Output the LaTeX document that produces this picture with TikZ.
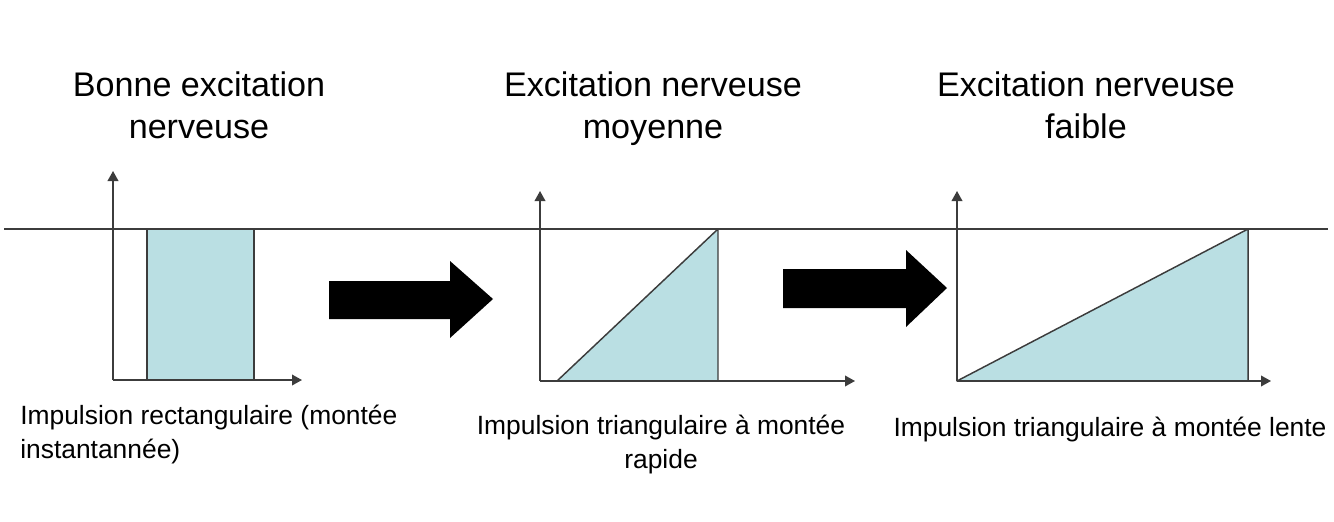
\documentclass[tikz,border=0pt]{standalone}
\usepackage{fontspec}
\setmainfont{Liberation Sans}
\usetikzlibrary{arrows.meta}
\definecolor{pulse}{RGB}{186,223,227}
\definecolor{axisgray}{RGB}{60,60,60}
\tikzset{
  axis/.style={draw=axisgray, line width=1.1pt, -{Triangle[length=7.5pt,width=8pt]}},
  level/.style={draw=axisgray, line width=1.1pt},
  pulsefill/.style={fill=pulse, draw=axisgray, line width=1.1pt, line join=round},
  blockarrow/.style={fill=black, draw=none},
  title/.style={font=\fontsize{25.6pt}{31.5pt}\selectfont, align=center, inner sep=0pt, text depth=0pt},
  caption/.style={font=\fontsize{19.8pt}{25.5pt}\selectfont, inner sep=0pt}
}
\begin{document}
\begin{tikzpicture}[x=0.75pt, y=-0.75pt]
\useasboundingbox (0,0) rectangle (1334,521);
% level line
\coordinate (L0) at (4,229);
\coordinate (L1) at (1328,229);
% panel 1
\coordinate (o1) at (113,380);
\coordinate (y1) at (113,171);
\coordinate (x1) at (302,380);
\fill[pulse] (147,229) rectangle (254,380);
\draw[level] (147,380) -- (147,229) (254,229) -- (254,380);
\draw[axis] (o1) -- (y1);
\draw[axis] (o1) -- (x1);
% panel 2
\coordinate (o2) at (540,381);
\coordinate (y2) at (540,191);
\coordinate (x2) at (855,381);
\draw[pulsefill] (557,381) -- (718,229) -- (718,381) -- cycle;
\draw[axis] (o2) -- (y2);
\draw[axis] (o2) -- (x2);
% panel 3
\coordinate (o3) at (957,381);
\coordinate (y3) at (957,191);
\coordinate (x3) at (1271,381);
\draw[pulsefill] (957,381) -- (1248,229) -- (1248,381) -- cycle;
\draw[axis] (o3) -- (y3);
\draw[axis] (o3) -- (x3);
\draw[level] (L0) -- (L1);
% block arrows
\fill[blockarrow] (329,281) -- (450,281) -- (450,261) -- (493,299) -- (450,338) -- (450,319) -- (329,319) -- cycle;
\fill[blockarrow] (783,269) -- (906,269) -- (906,250) -- (947,288) -- (906,327) -- (906,308) -- (783,308) -- cycle;
% titles
\node[title] (t1) at (199,105) {Bonne excitation\\nerveuse};
\node[title] (t2) at (653,105) {Excitation nerveuse\\moyenne};
\node[title] (t3) at (1086,105) {Excitation nerveuse\\faible};
% captions
\node[caption, align=left, anchor=north west] (c1) at (20,405) {Impulsion rectangulaire (montée\\instantannée)};
\node[caption, align=center, anchor=north] (c2) at (661,415) {Impulsion triangulaire à montée\\rapide};
\node[caption, anchor=north] (c3) at (1110,417) {Impulsion triangulaire à montée lente};
\end{tikzpicture}
\end{document}
